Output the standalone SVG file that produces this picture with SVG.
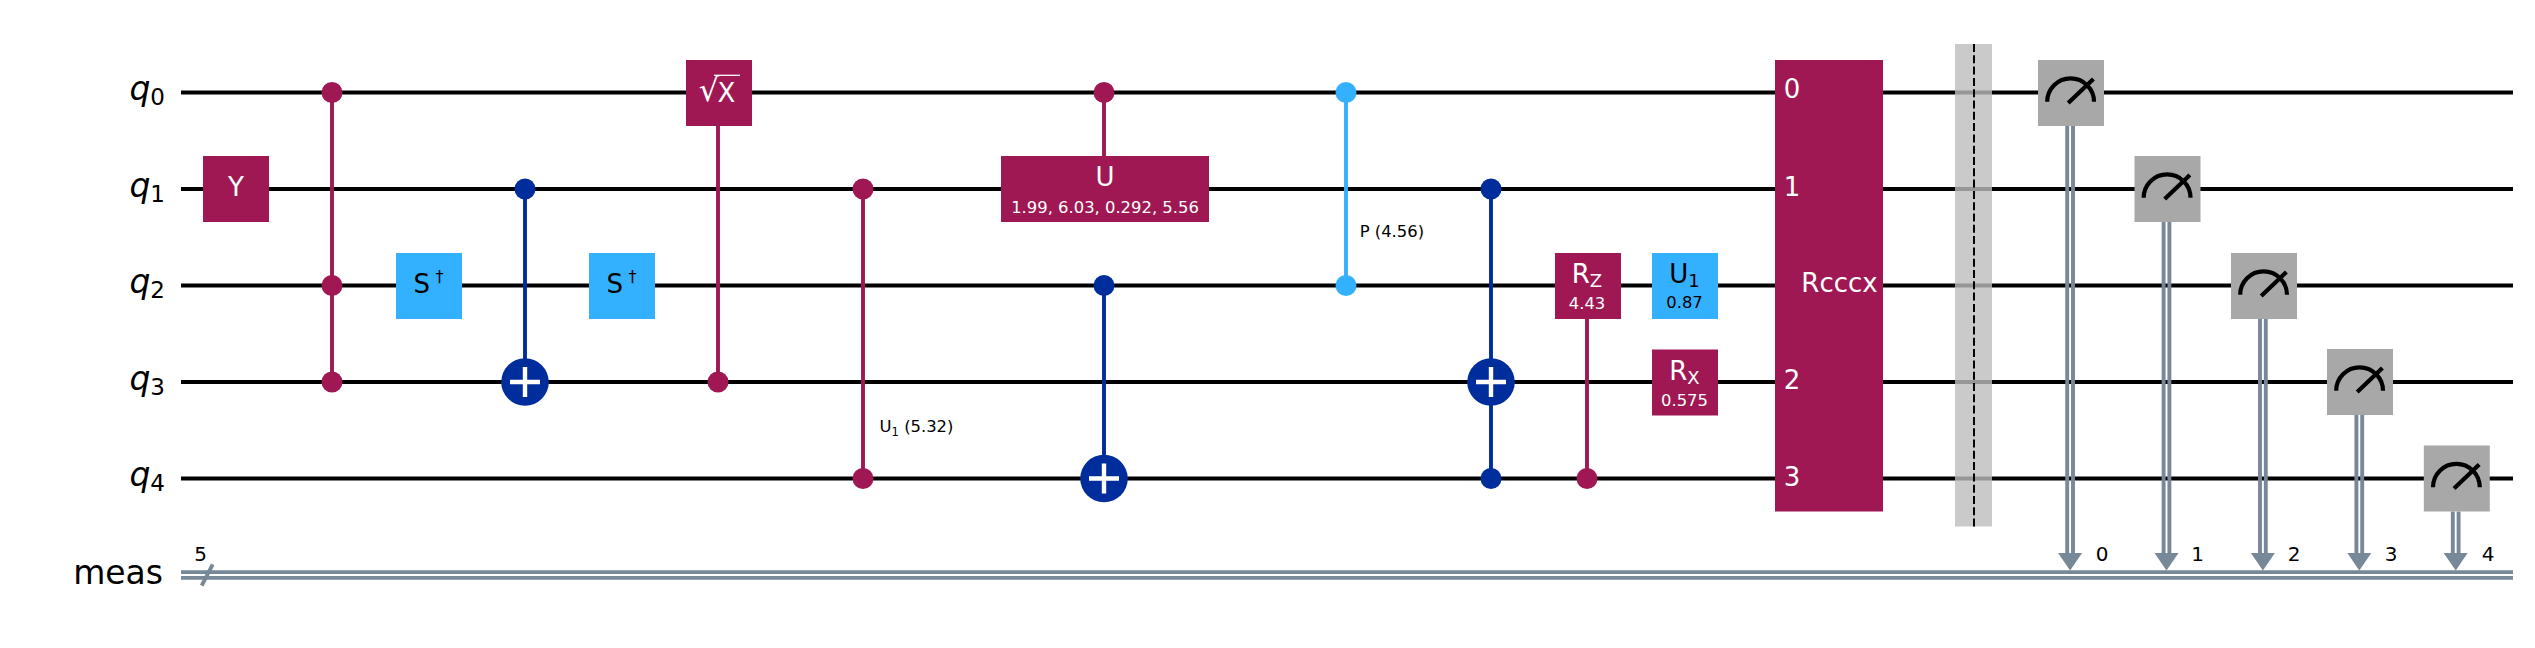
<svg xmlns="http://www.w3.org/2000/svg" width="2535" height="648" viewBox="0 0 2535 648">
<style>
text{font-family:"DejaVu Sans","Liberation Sans",sans-serif;fill:#000}
.lbl{font-size:33px;text-anchor:end}
.lbl .q{font-style:italic}
.sub{font-size:23px}
.t{font-size:26px;text-anchor:middle;fill:#fff}
.s{font-size:16.4px;text-anchor:middle;fill:#fff}
.k{fill:#000}
.n{font-size:20px;text-anchor:middle}
.c{font-size:16.4px}
.w{stroke:#000;stroke-width:3.9;fill:none}
.cr{stroke:#778899;stroke-width:3.9;fill:none}
.m{fill:#9f1853}.b{fill:#002d9c}.l{fill:#33b1ff}.g{fill:#a8a8a8}
.lm{stroke:#9f1853;stroke-width:3.9}.lb{stroke:#002d9c;stroke-width:3.9}.ll{stroke:#33b1ff;stroke-width:3.9}
.p{stroke:#fff;stroke-width:4.4;fill:none}
.mt{stroke:#000;stroke-width:4.2;fill:none}
</style>
<defs>
<polygon id="ah" points="-12,553 12,553 0,570.5" fill="#778899"/>
<g id="plus"><circle r="23.8" class="b"/><path class="p" d="M-15 0H15M0 -15V15"/></g>
<g id="meter"><rect x="-33" y="-33" width="66" height="66" class="g"/><path class="mt" d="M-23.8 8.8A23.4 23.4 0 0 1 23 8.8M-2.8 10L22.4 -14"/></g>
</defs>
<rect width="2535" height="648" fill="#fff"/>
<g id="labels">
<text id="label-q0" class="lbl" x="165" y="100"><tspan class="q">q</tspan><tspan class="sub" dy="5">0</tspan></text>
<text id="label-q1" class="lbl" x="165" y="196.500"><tspan class="q">q</tspan><tspan class="sub" dy="5">1</tspan></text>
<text id="label-q2" class="lbl" x="165" y="293"><tspan class="q">q</tspan><tspan class="sub" dy="5">2</tspan></text>
<text id="label-q3" class="lbl" x="165" y="389.500"><tspan class="q">q</tspan><tspan class="sub" dy="5">3</tspan></text>
<text id="label-q4" class="lbl" x="165" y="486"><tspan class="q">q</tspan><tspan class="sub" dy="5">4</tspan></text>
<text id="label-meas" class="lbl" x="163" y="584">meas</text>
</g>
<g id="wires">
<path class="w" d="M181 92.500H2513M181 189H2513M181 285.500H2513M181 382H2513M181 478.500H2513"/>
<path class="cr" d="M181 572.100H2513M181 577.900H2513"/>
<path class="cr" stroke-width="3" d="M201.700 585.700L212.700 564.300"/>
<text class="n" x="200.500" y="560.700">5</text>
</g>
<g id="connectors">
<path class="lm" d="M332 92.500V382"/>
<path class="lb" d="M525 189V382"/>
<path class="lm" d="M718 92.500V382"/>
<path class="lm" d="M863 189V478.500"/>
<path class="lm" d="M1104 92.500V189"/>
<path class="lb" d="M1104 285.500V478.500"/>
<path class="ll" d="M1346 92.500V285.500"/>
<path class="lb" d="M1491 189V478.500"/>
<path class="lm" d="M1587 285.500V478.500"/>
<g id="measure-lines" class="cr">
<path d="M2067.200 126V555M2073 126V555"/>
<path d="M2163.600 222V555M2169.400 222V555"/>
<path d="M2260 319V555M2265.800 319V555"/>
<path d="M2356.400 415V555M2362.200 415V555"/>
<path d="M2452.800 511.500V555M2458.600 511.500V555"/>
</g>
<use href="#ah" x="2070.100"/><use href="#ah" x="2166.500"/><use href="#ah" x="2262.900"/><use href="#ah" x="2359.300"/><use href="#ah" x="2455.700"/>
<text class="n" x="2102" y="560.700">0</text>
<text class="n" x="2197.500" y="560.700">1</text>
<text class="n" x="2294" y="560.700">2</text>
<text class="n" x="2391" y="560.700">3</text>
<text class="n" x="2488" y="560.700">4</text>
</g>
<g id="gate-y"><rect x="203" y="156" width="66" height="66" class="m"/><text class="t" x="236" y="196">Y</text></g>
<g id="ccz"><circle cx="332" cy="92.500" r="10.500" class="m"/><circle cx="332" cy="285.500" r="10.500" class="m"/><circle cx="332" cy="382" r="10.500" class="m"/></g>
<g id="gate-sdg-1"><rect x="396" y="253" width="66" height="66" class="l"/><text class="t k" x="428.500" y="292.700">S<tspan font-size="16" dx="5.500" dy="-10.700">†</tspan></text></g>
<g id="cx-1"><circle cx="525" cy="189" r="10.500" class="b"/><use href="#plus" x="525" y="382"/></g>
<g id="gate-sdg-2"><rect x="589" y="253" width="66" height="66" class="l"/><text class="t k" x="621.500" y="292.700">S<tspan font-size="16" dx="5.500" dy="-10.700">†</tspan></text></g>
<g id="csx"><rect x="686" y="60" width="66" height="66" class="m"/><text class="t" x="709" y="101" style="font-size:32px">√</text><text class="t" x="726.500" y="101.700">X</text><path d="M714 75.300H740" stroke="#fff" stroke-width="1.300"/><circle cx="718" cy="382" r="10.500" class="m"/></g>
<g id="cu1"><circle cx="863" cy="189" r="10.500" class="m"/><circle cx="863" cy="478.500" r="10.500" class="m"/><text class="c" x="879.600" y="431.700">U<tspan font-size="11.500" dy="4">1</tspan><tspan dy="-4"> (5.32)</tspan></text></g>
<g id="cu"><circle cx="1104" cy="92.500" r="10.500" class="m"/><rect x="1001" y="156" width="208" height="66" class="m"/><text class="t" x="1105" y="186">U</text><text class="s" x="1105" y="213">1.99, 6.03, 0.292, 5.56</text><circle cx="1104" cy="285.500" r="10.500" class="b"/><use href="#plus" x="1104" y="478.500"/></g>
<g id="cp"><circle cx="1346" cy="92.500" r="10.500" class="l"/><circle cx="1346" cy="285.500" r="10.500" class="l"/><text class="c" x="1359.700" y="237">P (4.56)</text></g>
<g id="ccx"><circle cx="1491" cy="189" r="10.500" class="b"/><use href="#plus" x="1491" y="382"/><circle cx="1491" cy="478.500" r="10.500" class="b"/></g>
<g id="crz"><rect x="1555" y="253" width="66" height="66" class="m"/><text class="t" x="1587" y="283">R<tspan font-size="18" dy="4">Z</tspan></text><text class="s" x="1587" y="309">4.43</text><circle cx="1587" cy="478.500" r="10.500" class="m"/></g>
<g id="gate-u1"><rect x="1652" y="253" width="66" height="66" class="l"/><text class="t k" x="1684.500" y="283">U<tspan font-size="18" dy="4">1</tspan></text><text class="s k" x="1684.500" y="308">0.87</text></g>
<g id="gate-rx"><rect x="1652" y="349.500" width="66" height="66" class="m"/><text class="t" x="1684.500" y="380">R<tspan font-size="18" dy="4">X</tspan></text><text class="s" x="1684.500" y="406">0.575</text></g>
<g id="gate-rcccx"><rect x="1775" y="60" width="108" height="451.500" class="m"/><text class="t" x="1792" y="98.300">0</text><text class="t" x="1792" y="195.500">1</text><text class="t" x="1839.500" y="291.700">Rcccx</text><text class="t" x="1792" y="388.800">2</text><text class="t" x="1792" y="485.700">3</text></g>
<g id="barrier"><rect x="1955" y="44" width="37" height="482.500" fill="#bdbdbd" fill-opacity=".8"/><path d="M1974 44V526.500" stroke="#000" stroke-width="2" stroke-dasharray="8 3.300"/></g>
<g id="measure-0"><use href="#meter" x="2071" y="93"/></g>
<g id="measure-1"><use href="#meter" x="2167.500" y="189"/></g>
<g id="measure-2"><use href="#meter" x="2264" y="286"/></g>
<g id="measure-3"><use href="#meter" x="2360" y="382"/></g>
<g id="measure-4"><use href="#meter" x="2456.800" y="478.500"/></g>
</svg>
